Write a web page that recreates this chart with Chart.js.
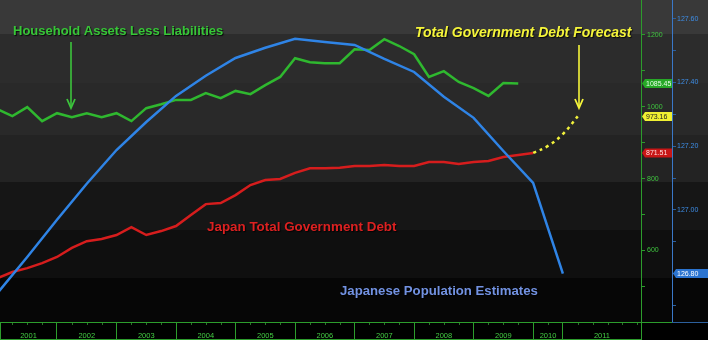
<!DOCTYPE html>
<html>
<head>
<meta charset="utf-8">
<title>Japan: assets, debt and population</title>
<script src="https://cdn.jsdelivr.net/npm/chart.js@4/dist/chart.umd.min.js"></script>
<style>
  html, body { margin: 0; padding: 0; background: #000; }
  canvas { display: block; }
</style>
</head>
<body>
<canvas id="chart-japan" width="708" height="340"></canvas>
<script>
// x is counted in quarters from the start of 2001; 2010 only has two
// quarters on the axis, 2011 takes the rest.
const yearLabels = ['2001', '2002', '2003', '2004', '2005', '2006', '2007', '2008', '2009', '2010', '2011'];
const yearEdges = [0, 4, 8, 12, 16, 20, 24, 28, 32, 36, 38, 43.25];

// Household assets less liabilities, one value per quarter
const householdNet = [
  1014, 995, 1020, 981, 1003, 992, 1003, 992, 1003, 981,
  1017, 1028, 1040, 1040, 1059, 1045, 1065, 1056, 1081, 1104,
  1156, 1145, 1142, 1142, 1181, 1179, 1209, 1190, 1167, 1104,
  1120, 1090, 1073, 1051, 1087, 1085.45
];

// Japan total government debt, one value per quarter
const govDebt = [
  523, 540, 551, 565, 582, 607, 626, 632, 643, 665,
  643, 654, 668, 699, 729, 732, 754, 782, 796, 799,
  816, 829, 829, 830, 835, 835, 838, 835, 835, 846,
  846, 841, 846, 849, 860, 866, 871.51
];

// Debt forecast, carries on from the last reported quarter
const forecastQuarters = [36, 37, 38, 39];
const debtForecast = [871.51, 891, 924, 973.16];

// Japanese population estimates (millions), every second quarter
const popQuarters = [0, 2, 4, 6, 8, 10, 12, 14, 16, 18, 20, 22, 24, 26, 28, 30, 32, 34, 36, 38];
const population = [
  126.739, 126.852, 126.969, 127.082, 127.188, 127.276, 127.358, 127.421, 127.477, 127.509,
  127.537, 127.527, 127.518, 127.474, 127.433, 127.355, 127.289, 127.185, 127.085, 126.80
];

// labelled values on the two right-hand axes
const debtTicks = [600, 800, 1000, 1200];
const popTicks = [127.6, 127.4, 127.2, 127.0, 126.8];

const GREEN = '#2fb82f';
const AXIS_GREEN = '#2c9c2c';
const RED = '#d61d1d';
const YELLOW = '#f2f23c';
const BLUE = '#2f84e6';
const FONT = "'Liberation Sans', Arial, sans-serif";

const X_MIN = 0.17;
const X_MAX = 43.25;

// gray bands behind the plot, lighter at the top
const backdrop = {
  id: 'backdrop',
  beforeDraw(chart) {
    const { ctx, chartArea } = chart;
    const stops = [0, 0.106, 0.258, 0.419, 0.565, 0.714, 0.863, 1];
    const shades = ['#393939', '#2c2c2c', '#292929', '#232323', '#161616', '#0f0f0f', '#060606'];
    const h = chartArea.bottom - chartArea.top;
    ctx.save();
    ctx.fillStyle = '#000';
    ctx.fillRect(0, 0, chart.width, chart.height);
    for (let i = 0; i < shades.length; i++) {
      const y0 = Math.round(chartArea.top + stops[i] * h);
      const y1 = Math.round(chartArea.top + stops[i + 1] * h);
      ctx.fillStyle = shades[i];
      ctx.fillRect(0, y0, chart.width, y1 - y0);
    }
    ctx.restore();
  }
};

function arrowDown(ctx, x, y0, y1, colour) {
  ctx.strokeStyle = colour;
  ctx.lineWidth = 1.6;
  ctx.beginPath();
  ctx.moveTo(x, y0);
  ctx.lineTo(x, y1 - 1);
  ctx.stroke();
  ctx.beginPath();
  ctx.moveTo(x - 4, y1 - 9);
  ctx.lineTo(x, y1);
  ctx.lineTo(x + 4, y1 - 9);
  ctx.lineWidth = 1.8;
  ctx.stroke();
}

// series names and pointers written on the plot
const notes = {
  id: 'notes',
  afterDatasetsDraw(chart) {
    const ctx = chart.ctx;
    ctx.save();
    ctx.shadowColor = 'rgba(0,0,0,0.8)';
    ctx.shadowOffsetX = 1;
    ctx.shadowOffsetY = 1;
    ctx.shadowBlur = 1;
    ctx.textBaseline = 'alphabetic';
    ctx.textAlign = 'left';

    ctx.font = 'bold 13px ' + FONT;
    ctx.fillStyle = '#37c637';
    ctx.fillText('Household Assets Less Liabilities', 13, 35);

    ctx.font = 'italic bold 14px ' + FONT;
    ctx.fillStyle = '#f5f53a';
    ctx.fillText('Total Government Debt Forecast', 415, 37);

    ctx.font = 'bold 13.4px ' + FONT;
    ctx.fillStyle = '#dc2121';
    ctx.fillText('Japan Total Government Debt', 207, 231);

    ctx.font = 'bold 13.2px ' + FONT;
    ctx.fillStyle = '#7292e2';
    ctx.fillText('Japanese Population Estimates', 340, 295);

    ctx.shadowColor = 'transparent';
    arrowDown(ctx, 71, 42, 108, '#3cc43c');
    arrowDown(ctx, 579, 45, 108, '#f5f53a');
    ctx.restore();
  }
};

function valueTag(ctx, text, y, x0, x1, bg, fg) {
  ctx.fillStyle = bg;
  ctx.beginPath();
  ctx.moveTo(x0, y);
  ctx.lineTo(x0 + 3, y - 4.5);
  ctx.lineTo(x1, y - 4.5);
  ctx.lineTo(x1, y + 4.5);
  ctx.lineTo(x0 + 3, y + 4.5);
  ctx.closePath();
  ctx.fill();
  ctx.fillStyle = fg;
  ctx.font = '7px ' + FONT;
  ctx.textAlign = 'left';
  ctx.textBaseline = 'middle';
  ctx.fillText(text, x0 + 4, y + 0.5);
}

// last-value tags on the right axes, plus the frame of the date strip
const tags = {
  id: 'tags',
  afterDraw(chart) {
    const { ctx, chartArea, scales } = chart;
    const debtAxis = scales.yDebt;
    const popAxis = scales.yPop;
    ctx.save();

    ctx.lineWidth = 1;
    ctx.strokeStyle = AXIS_GREEN;
    ctx.beginPath();
    ctx.moveTo(0.5, chartArea.bottom);
    ctx.lineTo(0.5, chart.height);
    ctx.moveTo(0, chart.height - 0.5);
    ctx.lineTo(chartArea.right, chart.height - 0.5);
    ctx.moveTo(chartArea.right, chartArea.bottom + 0.5);
    ctx.lineTo(popAxis.left, chartArea.bottom + 0.5);
    ctx.stroke();
    ctx.strokeStyle = '#2c5f9c';
    ctx.beginPath();
    ctx.moveTo(popAxis.left, chartArea.bottom + 0.5);
    ctx.lineTo(chart.width, chartArea.bottom + 0.5);
    ctx.stroke();

    // short quarter marks under the top edge of the date strip
    ctx.strokeStyle = 'rgba(70,190,70,0.6)';
    ctx.beginPath();
    for (let q = 1; q < X_MAX; q++) {
      if (yearEdges.includes(q)) continue;
      const px = Math.round(scales.x.getPixelForValue(q)) + 0.5;
      ctx.moveTo(px, chartArea.bottom + 1);
      ctx.lineTo(px, chartArea.bottom + 3);
    }
    ctx.stroke();

    const lastHouse = householdNet[householdNet.length - 1];
    const lastForecast = debtForecast[debtForecast.length - 1];
    const lastDebt = govDebt[govDebt.length - 1];
    const lastPop = population[population.length - 1];
    const x0 = debtAxis.left + 1;
    const x1 = debtAxis.right;
    valueTag(ctx, lastHouse.toFixed(2), scales.yHouse.getPixelForValue(lastHouse), x0, x1, '#27a827', '#e8ffe8');
    valueTag(ctx, lastForecast.toFixed(2), debtAxis.getPixelForValue(lastForecast), x0, x1, '#f0f032', '#222');
    valueTag(ctx, lastDebt.toFixed(2), debtAxis.getPixelForValue(lastDebt), x0, x1, '#c81616', '#ffe0e0');
    valueTag(ctx, lastPop.toFixed(2), popAxis.getPixelForValue(lastPop), popAxis.left + 1, popAxis.right, '#2b74d0', '#ffffff');
    ctx.restore();
  }
};

const yearTicks = [];
yearEdges.forEach(e => yearTicks.push({ value: Math.max(e, X_MIN) }));
yearLabels.forEach((y, i) => {
  yearTicks.push({ value: (Math.max(yearEdges[i], X_MIN) + yearEdges[i + 1]) / 2, year: y });
});
yearTicks.sort((a, b) => a.value - b.value);

const noPad = axis => {
  axis.paddingTop = 0;
  axis.paddingBottom = 0;
  axis.paddingLeft = 0;
  axis.paddingRight = 0;
};

// labelled ticks plus an unlabelled one halfway between each pair
const withMinor = (list, half) => {
  const out = [];
  list.forEach(v => { out.push({ value: v, major: true }); out.push({ value: v + half }); out.push({ value: v - half }); });
  return out;
};

const data_japan = {
  datasets: [
    {
      label: 'Japanese Population Estimates',
      data: popQuarters.map((q, i) => ({ x: q, y: population[i] })),
      yAxisID: 'yPop',
      borderColor: BLUE,
      borderWidth: 2.5,
      order: 0
    },
    {
      label: 'Household Assets Less Liabilities',
      data: householdNet.map((v, i) => ({ x: i, y: v })),
      yAxisID: 'yHouse',
      borderColor: GREEN,
      borderWidth: 2.5,
      order: 1
    },
    {
      label: 'Japan Total Government Debt',
      data: govDebt.map((v, i) => ({ x: i, y: v })),
      yAxisID: 'yDebt',
      borderColor: RED,
      borderWidth: 2.5,
      order: 2
    },
    {
      label: 'Total Government Debt Forecast',
      data: forecastQuarters.map((q, i) => ({ x: q, y: debtForecast[i] })),
      yAxisID: 'yDebt',
      borderColor: YELLOW,
      borderWidth: 2.5,
      borderDash: [3, 4],
      tension: 0.4,
      order: 3
    }
  ]
};

const config_japan = {
  type: 'line',
  data: data_japan,
  options: {
    responsive: false,
    animation: false,
    devicePixelRatio: 1,
    layout: { padding: 0 },
    elements: { point: { radius: 0 }, line: { tension: 0 } },
    plugins: { legend: { display: false }, tooltip: { enabled: false } },
    scales: {
      x: {
        type: 'linear',
        position: 'bottom',
        min: X_MIN,
        max: X_MAX,
        afterBuildTicks: axis => { axis.ticks = yearTicks.map(t => ({ value: t.value })); },
        afterFit: axis => { axis.height = 18; noPad(axis); },
        grid: {
          drawOnChartArea: false,
          tickLength: 18,
          color: ctx => (ctx.tick && yearEdges.some(e => Math.max(e, X_MIN) === ctx.tick.value)) ? AXIS_GREEN : 'rgba(0,0,0,0)'
        },
        border: { color: AXIS_GREEN },
        ticks: {
          autoSkip: false,
          maxRotation: 0,
          padding: -9,
          color: '#44cc44',
          font: { size: 7.5, family: FONT },
          callback: (value, index) => yearTicks[index].year || ''
        }
      },
      yDebt: {
        type: 'linear',
        position: 'right',
        min: 401,
        max: 1297,
        afterBuildTicks: axis => {
          axis.ticks = withMinor(debtTicks, 100).filter(t => t.value > axis.min && t.value < axis.max);
        },
        afterFit: axis => { axis.width = 31; noPad(axis); },
        grid: { drawOnChartArea: false, tickLength: 4, color: AXIS_GREEN },
        border: { color: AXIS_GREEN },
        ticks: {
          autoSkip: false,
          padding: 2,
          color: '#3fc43f',
          font: { size: 7, family: FONT },
          callback: function (value, index, ticks) { return ticks[index].major ? String(value) : ''; }
        }
      },
      yPop: {
        type: 'linear',
        position: 'right',
        min: 126.648,
        max: 127.659,
        afterBuildTicks: axis => {
          axis.ticks = withMinor(popTicks, 0.1).filter(t => t.value > axis.min && t.value < axis.max);
        },
        afterFit: axis => { axis.width = 36; noPad(axis); },
        grid: { drawOnChartArea: false, tickLength: 4, color: '#2c5f9c' },
        border: { color: '#3a78c8' },
        ticks: {
          autoSkip: false,
          padding: 1,
          color: '#3d8de6',
          font: { size: 7, family: FONT },
          callback: function (value, index, ticks) { return ticks[index].major ? value.toFixed(2) : ''; }
        }
      },
      yHouse: {
        type: 'linear',
        display: false,
        min: 422,
        max: 1318
      }
    }
  },
  plugins: [backdrop, notes, tags]
};

const myChart_japan = new Chart(
  document.getElementById('chart-japan'),
  config_japan
);
</script>
</body>
</html>
